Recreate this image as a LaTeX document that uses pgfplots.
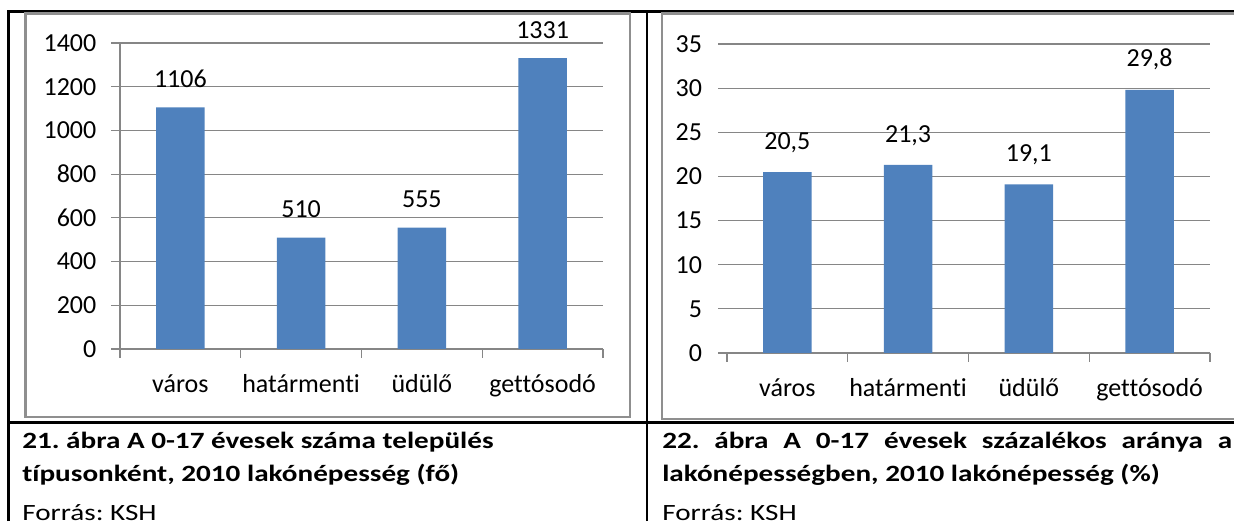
\documentclass[border=0pt]{standalone}
\usepackage{fontspec}
\setmainfont{Carlito}[Ligatures=NoCommon]
\usepackage{graphicx}
\usepackage{pgfplots}
\pgfplotsset{compat=1.18}
\definecolor{barblue}{HTML}{4F81BD}
\definecolor{gridgray}{HTML}{868686}
\definecolor{framegray}{HTML}{8F8F8F}

\newcommand{\chartfont}{\fontsize{19.5}{23}\selectfont}
\frenchspacing

\pgfplotsset{
  kshbar/.style={
    scale only axis, width=362.25pt,
    ybar, bar width=0.4,
    xmin=-0.5, xmax=3.5, ymin=0,
    xtick={0,1,2,3},
    xticklabels={város,határmenti,üdülő,gettósodó},
    minor xtick={-0.5,0.5,1.5,2.5,3.5},
    tick align=outside,
    major tick length=6.75pt, minor tick length=6.75pt,
    tick style={gridgray, line width=0.9pt},
    major x tick style={draw=none},
    ymajorgrids, grid style={gridgray, line width=0.9pt},
    axis lines*=left,
    axis line style={gridgray, line width=0.9pt},
    tick label style={font=\chartfont, black},
    xticklabel style={yshift=-9pt},
    yticklabel style={xshift=-7.5pt},
    /pgf/number format/assume math mode=true,
    /pgf/number format/1000 sep={},
    every node near coord/.append style={font=\chartfont, black, inner sep=0pt, yshift=14.5pt},
  },
}

\begin{document}
\begin{tikzpicture}
\useasboundingbox (0,0) rectangle (925.5pt,390.75pt);
\clip (0,0) rectangle (925.5pt,390.75pt);

% table rules
\draw[line width=2pt] (6.4pt,0) -- (6.4pt,383pt);
\draw[line width=2pt] (5.4pt,382.1pt) -- (930pt,382.1pt);
\draw[line width=2pt] (485.25pt,0) -- (485.25pt,382.1pt);
\draw[line width=2pt] (5.4pt,73.65pt) -- (930pt,73.65pt);

% chart frames
\draw[framegray, line width=1.6pt] (19.1pt,77.8pt) rectangle (472.5pt,380.6pt);
\draw[framegray, line width=1.6pt] (496.5pt,76.3pt) rectangle (940pt,380.6pt);

% left chart
\begin{axis}[kshbar,
  at={(90pt,129pt)}, anchor=south west, height=229.5pt,
  ymax=1400, ytick={0,200,...,1400},
  nodes near coords,
]
\addplot[fill=barblue, draw=none] coordinates {(0,1106) (1,510) (2,555) (3,1331)};
\end{axis}

% right chart
\begin{axis}[kshbar,
  at={(545.25pt,126pt)}, anchor=south west, height=231.75pt,
  ymax=35, ytick={0,5,...,35},
  y axis line style={draw=none},
  yticklabel style={xshift=-1pt},
  nodes near coords={\pgfmathprintnumber[fixed,fixed zerofill,precision=1,use comma]{\pgfplotspointmeta}},
]
\addplot[fill=barblue, draw=none] coordinates {(0,20.5) (1,21.3) (2,19.1) (3,29.8)};
\end{axis}

% captions
\node[anchor=base west, inner sep=0pt] at (16.5pt,54.75pt)
  {\scalebox{1.25}[1]{\fontsize{17.5}{21}\selectfont\bfseries 21. ábra A 0-17 évesek száma település}};
\node[anchor=base west, inner sep=0pt] at (16.5pt,29.5pt)
  {\scalebox{1.25}[1]{\fontsize{17.5}{21}\selectfont\bfseries típusonként, 2010 lakónépesség (fő)}};
\node[anchor=base west, inner sep=0pt] at (16.5pt,0.5pt)
  {\scalebox{1.25}[1]{\fontsize{17.5}{21}\selectfont Forrás: KSH}};
\node[anchor=base west, inner sep=0pt] at (496.5pt,54.75pt)
  {\scalebox{1.25}[1]{\fontsize{17.5}{21}\selectfont\bfseries\makebox[342pt][s]{22. ábra A 0-17 évesek százalékos aránya a}}};
\node[anchor=base west, inner sep=0pt] at (496.5pt,29.5pt)
  {\scalebox{1.25}[1]{\fontsize{17.5}{21}\selectfont\bfseries lakónépességben, 2010 lakónépesség (\%)}};
\node[anchor=base west, inner sep=0pt] at (496.5pt,0.5pt)
  {\scalebox{1.25}[1]{\fontsize{17.5}{21}\selectfont Forrás: KSH}};
\end{tikzpicture}
\end{document}
